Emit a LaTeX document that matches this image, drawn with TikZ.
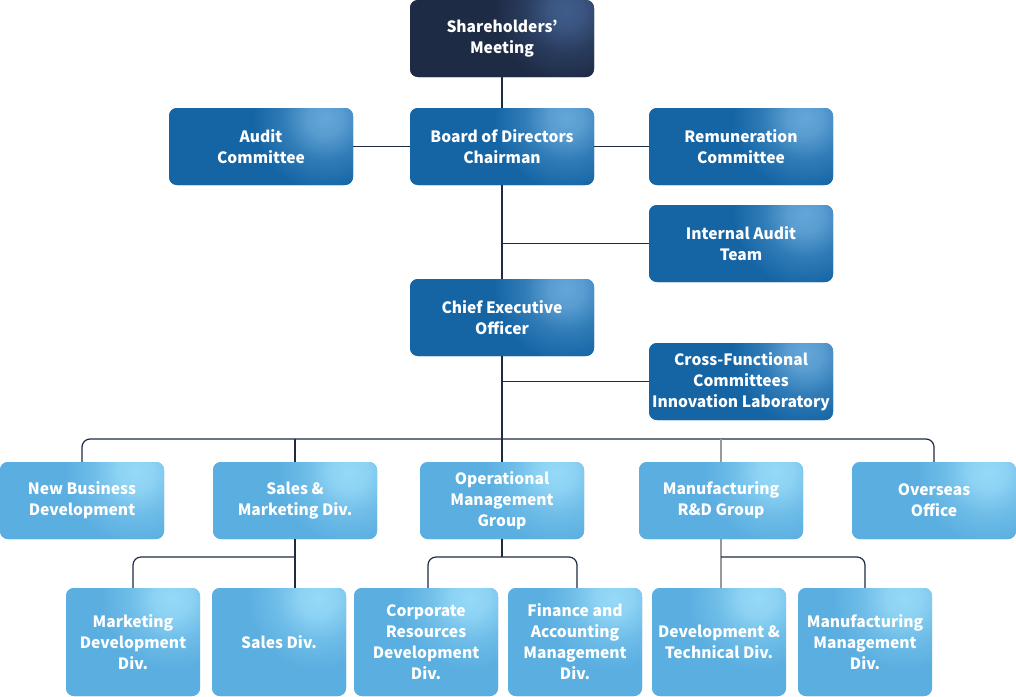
\documentclass[tikz,border=0pt]{standalone}
\usepackage{fontspec}
\setmainfont{Noto Sans CJK KR}
\definecolor{lineC}{HTML}{1F2A44}
\definecolor{dkB}{HTML}{1E2B45}
\definecolor{dkH}{HTML}{3F5C8A}
\definecolor{mdB}{HTML}{1565A5}
\definecolor{mdH}{HTML}{64A6D8}
\definecolor{ltB}{HTML}{5AAEE0}
\definecolor{ltH}{HTML}{96D9F7}
\pgfdeclareradialshading{dkshade}{\pgfpoint{0bp}{0bp}}{color(0bp)=(dkH); color(1.5bp)=(dkH!85!dkB); color(3.5bp)=(dkH!35!dkB); color(6bp)=(dkB); color(50bp)=(dkB)}
\pgfdeclareradialshading{mdshade}{\pgfpoint{0bp}{0bp}}{color(0bp)=(mdH); color(1.5bp)=(mdH!85!mdB); color(3.5bp)=(mdH!35!mdB); color(6bp)=(mdB); color(50bp)=(mdB)}
\pgfdeclareradialshading{ltshade}{\pgfpoint{0bp}{0bp}}{color(0bp)=(ltH); color(1.5bp)=(ltH!85!ltB); color(3.5bp)=(ltH!35!ltB); color(6bp)=(ltB); color(50bp)=(ltB)}
\tikzset{
  box/.style={rounded corners=8pt, minimum width=184pt, minimum height=77pt,
    inner sep=0pt, align=center, text=white,
    font=\bfseries\fontsize{15.6}{21}\selectfont},
  shadebox/.style 2 args={fill=#2, path picture={
    \shade[shading=#1]
      ([xshift=-28pt,yshift=-10pt]path picture bounding box.north east) circle (300pt);}},
  dkbox/.style={box, shadebox={dkshade}{dkB}},
  mdbox/.style={box, shadebox={mdshade}{mdB}},
  ltbox/.style={box, shadebox={ltshade}{ltB}, minimum width=164pt},
  lowbox/.style={box, shadebox={ltshade}{ltB}, minimum width=134pt, minimum height=108pt},
  conn/.style={draw=lineC, line width=1.2pt},
  gconn/.style={draw=gray!80, line width=1.2pt},
}
\begin{document}
\begin{tikzpicture}[x=1pt,y=-1pt]
\useasboundingbox[fill=white] (0,0) rectangle (1016,696);
% top
\node[dkbox] (sh) at (502,38.5) {Shareholders’\\Meeting};
\node[mdbox] (audit) at (261,146.5) {Audit\\Committee};
\node[mdbox] (board) at (502,146.5) {Board of Directors\\Chairman};
\node[mdbox] (rem) at (741,146.5) {Remuneration\\Committee};
\node[mdbox] (iat) at (741,243.5) {Internal Audit\\Team};
\node[mdbox] (ceo) at (502,317.5) {Chief Executive\\Officer};
\node[mdbox] (cfc) at (741,381.5) {Cross-Functional\\Committees\\Innovation Laboratory};
% row 3
\node[ltbox] (nbd) at (82,500.5) {New Business\\Development};
\node[ltbox] (smd) at (295,500.5) {Sales \&\\Marketing Div.};
\node[ltbox] (omg) at (502,500.5) {Operational\\Management\\Group};
\node[ltbox] (mrd) at (721,500.5) {Manufacturing\\R\&D Group};
\node[ltbox] (ovs) at (934,500.5) {Overseas\\Office};
% row 4
\node[lowbox] (mdd) at (133,642) {Marketing\\Development\\Div.};
\node[lowbox] (sdv) at (279,642) {Sales Div.};
\node[lowbox, minimum width=144pt] (crd) at (426,642) {Corporate\\Resources\\Development\\Div.};
\node[lowbox] (fam) at (575,642) {Finance and\\Accounting\\Management\\Div.};
\node[lowbox] (dtd) at (719,642) {Development \&\\Technical Div.};
\node[lowbox] (mmd) at (865,642) {Manufacturing\\Management\\Div.};
% helper coordinates
\coordinate (bus) at (502,439);
\coordinate (sub) at (0,557);
% connectors
\draw[conn] (sh) -- (board);
\draw[conn] (audit) -- (board);
\draw[conn] (board) -- (rem);
\draw[conn] (board) -- (ceo);
\draw[conn] (board |- iat) -- (iat);
\draw[conn] (ceo |- cfc) -- (cfc);
\draw[conn] (ceo.south) -- (omg.north);
\draw[conn, rounded corners=8pt] (nbd.north) -- (nbd.north |- bus) -- (ovs.north |- bus) -- (ovs.north);
\draw[conn] (smd.north |- bus) -- (smd.north);
\draw[gconn] (mrd.north |- bus) -- (mrd.north);
% sub branches
\draw[conn] (smd.south) -- (smd.south |- sdv.north);
\draw[conn, rounded corners=8pt] (smd.south |- sub) -- (mdd.north |- sub) -- (mdd.north);
\draw[conn] (omg.south) -- (omg.south |- sub);
\draw[conn, rounded corners=8pt] ([xshift=2pt]crd.north) -- ([xshift=2pt]crd.north |- sub) -- ([xshift=2pt]fam.north |- sub) -- ([xshift=2pt]fam.north);
\draw[gconn] (mrd.south) -- (mrd.south |- dtd.north);
\draw[conn, rounded corners=8pt] (mrd.south |- sub) -- (mmd.north |- sub) -- (mmd.north);
\end{tikzpicture}
\end{document}
